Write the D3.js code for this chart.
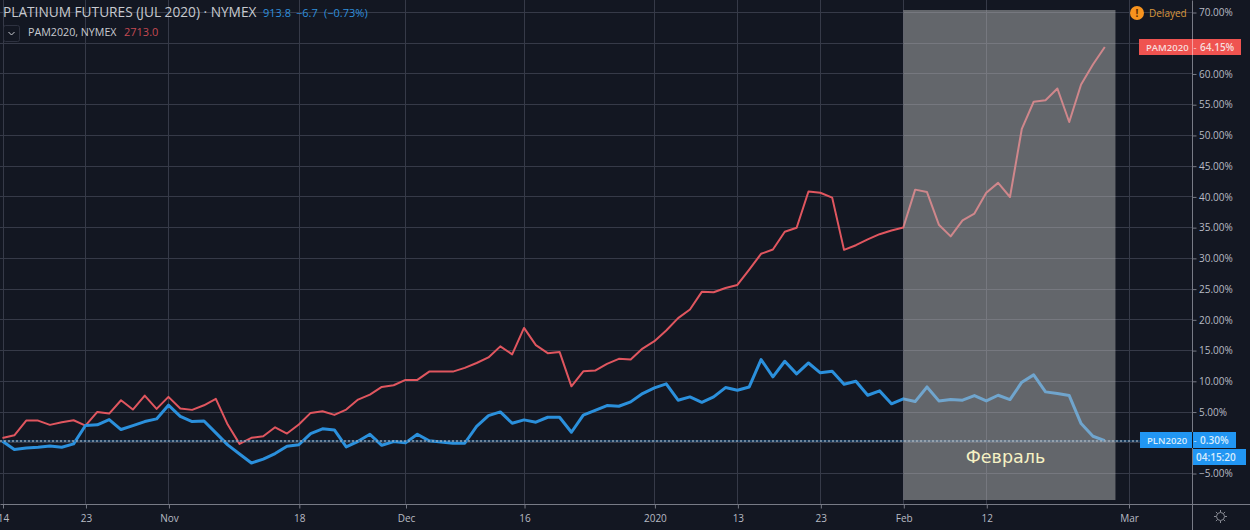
<!DOCTYPE html>
<html><head><meta charset="utf-8">
<script src="https://cdn.jsdelivr.net/npm/d3@7/dist/d3.min.js"></script>
<style>html,body{margin:0;padding:0;background:#131722;overflow:hidden}svg{display:block}text{font-family:"Open Sans",sans-serif}</style>
</head><body><svg id="c" width="1250" height="530"></svg>
<script>
const pamValues=[0.7,1.14,3.53,3.53,2.83,3.26,3.58,2.72,4.94,4.67,6.84,5.32,7.6,5.43,7.38,5.48,5.27,6.02,7.06,2.88,-0.26,0.72,0.98,2.44,1.42,2.88,4.78,5.05,4.45,5.32,6.95,7.76,9.0,9.28,10.15,10.15,11.5,11.5,11.5,12.1,12.9,13.8,15.6,14.3,18.6,15.8,14.5,14.7,9.1,11.55,11.66,12.75,13.57,13.46,15.25,16.44,18.18,20.2,21.6,24.47,24.4,25.1,25.6,28.1,30.66,31.36,34.25,34.9,40.8,40.6,39.8,31.3,32.06,33,33.85,34.45,34.95,41.1,40.7,35.4,33.5,36.1,37.2,40.6,42.2,39.9,51,55.4,55.65,57.55,52.1,58.2,61.45,64.3];
const plnValues=[0.16,-1.19,-0.92,-0.81,-0.6,-0.8,-0.27,2.72,2.83,3.7,2.07,2.72,3.37,3.8,6.03,4.2,3.37,3.47,1.53,-0.43,-1.9,-3.38,-2.73,-1.84,-0.65,-0.4,1.42,2.18,2.0,-0.75,0.16,1.3,-0.49,0.11,-0.1,1.3,0.23,0.06,-0.16,-0.16,2.6,4.34,4.94,3.09,3.64,3.26,4.07,4.07,1.63,4.4,5.2,5.97,5.86,6.57,7.92,8.85,9.5,6.84,7.38,6.5,7.38,8.9,8.46,9.0,13.46,10.64,13.18,11.13,12.9,11.3,11.57,9.44,9.93,7.65,8.36,6.25,7.06,6.62,9.0,6.73,6.95,6.84,7.6,6.73,7.65,6.95,9.77,10.96,8.2,7.93,7.6,3.04,0.98,0.28];
const xTickIndex=[0,7,14,25,34,44,55,62,69,76,83,95];
const xTickLabels=["14","23","Nov","18","Dec","16","2020","13","23","Feb","12","Mar"];
const yTicks=[-5,0,5,10,15,20,25,30,35,40,45,50,55,60,65,70];
const febRange=[76,93.9];
const febLabel="Февраль";

const svg=d3.select("#c");
const GRID="#363a48",BG="#131722",TXT="#b8bbc4",RED="#e0565f",BLUE="#2b90dc";
const x=d3.scaleLinear().domain([0,95]).range([2.5,1128.5]);
const y=d3.scaleLinear().domain([-5,70]).range([473,12]);

// grid
svg.append("g").selectAll("line").data(yTicks).join("line")
 .attr("x1",0).attr("x2",1192).attr("y1",d=>Math.round(y(d))+.5).attr("y2",d=>Math.round(y(d))+.5).attr("stroke",GRID);
svg.append("g").selectAll("line").data(xTickIndex).join("line")
 .attr("x1",d=>Math.round(x(d))+.5).attr("x2",d=>Math.round(x(d))+.5).attr("y1",0).attr("y2",504).attr("stroke",GRID);

// axes (the 0.00% label sits fully behind the PLN tag in the reference)
const yAxis=d3.axisRight(y).tickValues(yTicks).tickFormat(d=>d===0?"":(d<0?"\u2212":"")+Math.abs(d).toFixed(2)+"%").tickSize(4).tickPadding(2.5);
const yg=svg.append("g").attr("transform","translate(1192.5,0.5)").call(yAxis);
yg.select(".domain").attr("stroke","#787b86").attr("d","M0,0V530");
yg.selectAll(".tick line").attr("stroke","#787b86");
yg.selectAll("text").attr("fill",TXT).attr("font-size",10);
const xAxis=d3.axisBottom(x).tickValues(xTickIndex).tickFormat((d,i)=>xTickLabels[i]).tickSize(4).tickPadding(6);
const xg=svg.append("g").attr("transform","translate(0.5,504.5)").call(xAxis);
xg.select(".domain").attr("stroke","#787b86").attr("d","M0,0H1250");
xg.selectAll(".tick line").attr("stroke","#787b86");
xg.selectAll("text").attr("fill",TXT).attr("font-size",10);

// lines
const line=d3.line().x((d,i)=>x(i)).y(d=>y(d));
svg.append("path").datum(pamValues).attr("d",line).attr("fill","none").attr("stroke",RED).attr("stroke-width",2).attr("stroke-linejoin","round");
svg.append("path").datum(plnValues).attr("d",line).attr("fill","none").attr("stroke",BLUE).attr("stroke-width",3).attr("stroke-linejoin","round");

// last value guide
svg.append("line").attr("x1",0).attr("x2",1140).attr("y1",441).attr("y2",441).attr("stroke","#1d5f96");
svg.append("line").attr("x1",0).attr("x2",1140).attr("y1",441).attr("y2",441).attr("stroke","#c9d2da").attr("stroke-dasharray","2 2");

// February band
svg.append("rect").attr("x",x(febRange[0])).attr("y",10).attr("width",x(febRange[1])-x(febRange[0])).attr("height",490).attr("fill","#bdbdbd").attr("fill-opacity",.48);
svg.append("text").attr("x",1005.5).attr("y",463).attr("text-anchor","middle").attr("font-size",17.5).attr("fill","#f6f1c4").style("font-family","'DejaVu Sans'").text(febLabel);

// tags
function tag(x0,y0,w,h,c){svg.append("rect").attr("x",x0).attr("y",y0).attr("width",w).attr("height",h).attr("fill",c);}
function t(s,px,py,c,fs,w){return svg.append("text").attr("x",px).attr("y",py).attr("fill",c).attr("font-size",fs).attr("font-weight",w||400).text(s);}
tag(1139,39,102,16,"#ef5350");
svg.append("line").attr("x1",1192.5).attr("x2",1192.5).attr("y1",39).attr("y2",55).attr("stroke","#f7a0a0");
t("PAM2020",1146,50.5,"#f7dcdc",9.5,600);t("-",1193.5,50.5,"#f7dcdc",9.5);t("64.15%",1200,50.5,"#f7dcdc",10,600);
tag(1140,432,96,16,"#2196f3");
svg.append("line").attr("x1",1192.5).attr("x2",1192.5).attr("y1",432).attr("y2",448).attr("stroke","#131722");
t("PLN2020",1147,443.5,"#d8ecfb",9.5,600);t("-",1193.5,443.5,"#d8ecfb",9.5);t("0.30%",1200,443.5,"#d8ecfb",10,600);
tag(1193,449,53,16,"#2196f3");
t("04:15:20",1196,460.5,"#d8ecfb",10,600);

// delayed
svg.append("circle").attr("cx",1137).attr("cy",13).attr("r",7).attr("fill","#f7931e");
t("!",1135.6,17,"#5a2c00",10,700);
t("Delayed",1149,17,"#d9983c",10);

// legend
t("PLATINUM FUTURES (JUL 2020) · NYMEX",3,17,"#c8cad0",13.7);
t("913.8",263,17,"#2f8fdd",11);t("\u22126.7",296,17,"#2f8fdd",11);t("(\u22120.73%)",324,17,"#2f8fdd",11);
svg.append("rect").attr("x",3.5).attr("y",25.5).attr("width",16).attr("height",16).attr("rx",2).attr("fill","none").attr("stroke","#2e3240");
svg.append("path").attr("d","M8.5,32 L11.5,35 L14.5,32").attr("fill","none").attr("stroke","#c8cad0");
t("PAM2020, NYMEX",28,36,"#c8cad0",10.7);
t("2713.0",124,36,"#c44a52",11);

// settings gear
const g=svg.append("g").attr("transform","translate(1220.5,516.5)").attr("stroke","#8a8d96").attr("fill","none");
g.append("circle").attr("r",4);
d3.range(8).forEach(i=>{const a=i*Math.PI/4;g.append("line").attr("x1",4.5*Math.cos(a)).attr("y1",4.5*Math.sin(a)).attr("x2",6.5*Math.cos(a)).attr("y2",6.5*Math.sin(a));});
</script></body></html>
